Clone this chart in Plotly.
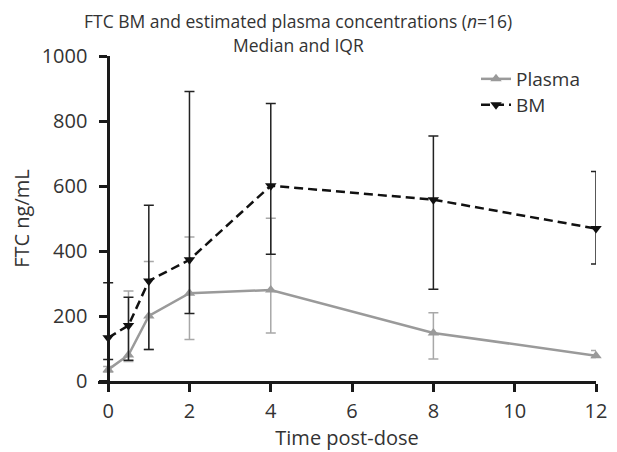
import plotly.graph_objects as go

time_h = [0, 0.5, 1, 2, 4, 8, 12]

plasma_median = [35, 80, 200, 270, 280, 148, 78]
plasma_q3 = [45, 277, 368, 443, 501, 210, 94]
plasma_q1 = [28, 60, 97, 128, 148, 68, 72]

bm_median = [133, 171, 308, 373, 601, 558, 469]
bm_q3 = [302, 258, 541, 891, 854, 754, 645]
bm_q1 = [66, 64, 97, 208, 390, 282, 360]

x_ticks = [0, 2, 4, 6, 8, 10, 12]
y_ticks = [0, 200, 400, 600, 800, 1000]

FONT = "Open Sans"
TXT = "#333333"

fig = go.Figure()

fig.add_trace(go.Scatter(
    x=time_h, y=plasma_median, name="Plasma", mode="lines+markers",
    line=dict(color="#9a9a9a", width=2.5),
    marker=dict(symbol="triangle-up", size=10, color="#9a9a9a"),
    error_y=dict(type="data", symmetric=False,
                 array=[a - m for a, m in zip(plasma_q3, plasma_median)],
                 arrayminus=[m - b for b, m in zip(plasma_q1, plasma_median)],
                 color="#a8a8a8", thickness=1.5, width=5),
    cliponaxis=False, legend="legend",
))

fig.add_trace(go.Scatter(
    x=time_h, y=bm_median, name="BM", mode="lines+markers",
    line=dict(color="#111111", width=2.5, dash="9px,5px"),
    marker=dict(symbol="triangle-down", size=10, color="#111111"),
    error_y=dict(type="data", symmetric=False,
                 array=[a - m for a, m in zip(bm_q3, bm_median)],
                 arrayminus=[m - b for b, m in zip(bm_q1, bm_median)],
                 color="#222222", thickness=1.5, width=5),
    cliponaxis=False, legend="legend2",
))

title_lines = ["FTC BM and estimated plasma concentrations (<i>n</i>=16)", "Median and IQR"]
title_y_px = [21, 45]
for t, ypx in zip(title_lines, title_y_px):
    fig.add_annotation(
        text=t, xref="paper", yref="paper",
        x=(298 - 98) / 498, y=1 + (56 - ypx) / 325,
        xanchor="center", yanchor="middle", showarrow=False,
        font=dict(family=FONT, size=17.5, color=TXT),
    )

def leg(ypx):
    return dict(x=(476 - 98) / 498, y=1 - (ypx - 56) / 325,
                xanchor="left", yanchor="middle",
                bgcolor="rgba(0,0,0,0)", font=dict(size=19, color=TXT),
                itemwidth=30)

fig.update_layout(
    width=617, height=452,
    margin=dict(l=98, r=21, t=56, b=71, autoexpand=False),
    paper_bgcolor="white", plot_bgcolor="white",
    font=dict(family=FONT, size=20, color=TXT),
    showlegend=True,
    legend=leg(79),
    legend2=leg(105),
    xaxis=dict(
        range=[-0.25, 12], tickvals=x_ticks, ticktext=[str(v) for v in x_ticks],
        showline=True, linecolor="#1a1a1a", linewidth=2.5,
        ticks="outside", ticklen=8, tickwidth=2.5, tickcolor="#1a1a1a",
        showgrid=False, zeroline=False, automargin=False,
        ticklabelstandoff=2,
        title=dict(text="Time post-dose", standoff=2, font=dict(size=20, color=TXT)),
        tickfont=dict(size=20, color=TXT),
    ),
    yaxis=dict(
        range=[0, 1000], tickvals=y_ticks, ticktext=[str(v) for v in y_ticks],
        anchor="free", position=0.25 / 12.25,
        showline=True, linecolor="#1a1a1a", linewidth=2.5,
        ticks="outside", ticklen=8, tickwidth=2.5, tickcolor="#1a1a1a",
        showgrid=False, zeroline=False, automargin=False,
        ticklabelstandoff=8,
        title=dict(text="FTC ng/mL", standoff=5, font=dict(size=20, color=TXT)),
        tickfont=dict(size=20, color=TXT),
    ),
)

fig.write_html("out.html", config={"displayModeBar": False},
               post_script="document.body.style.margin='0';")
